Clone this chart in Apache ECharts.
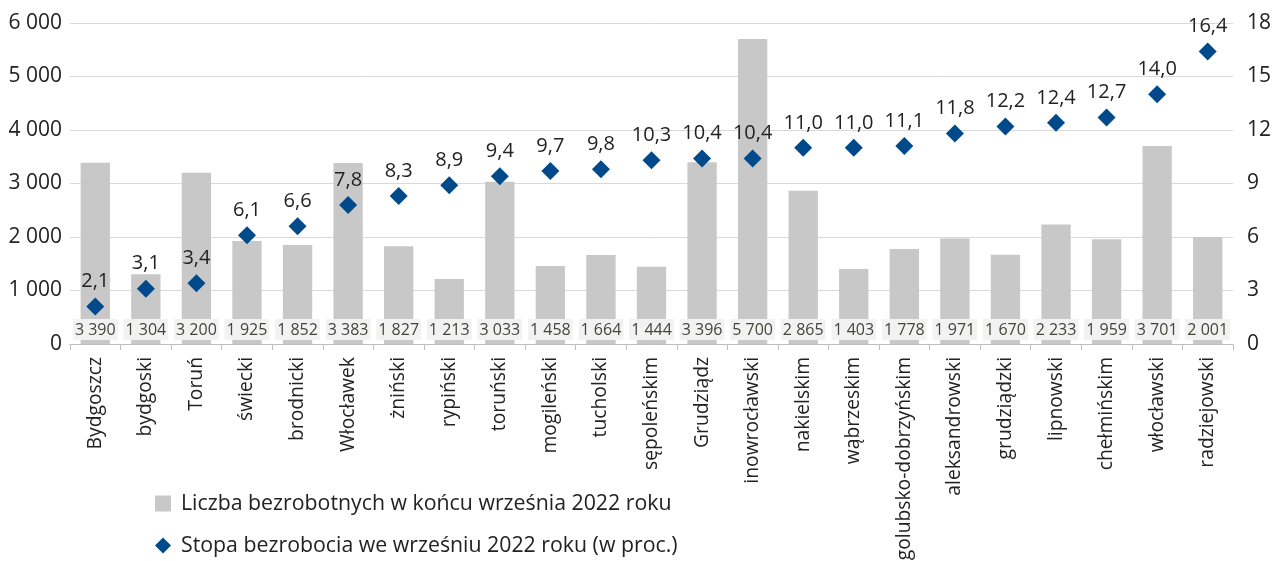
<!DOCTYPE html>
<html>
<head>
<meta charset="utf-8">
<script src="https://cdn.jsdelivr.net/npm/echarts@6/dist/echarts.min.js"></script>
<style>
  html, body { margin: 0; padding: 0; background: #fff; }
  #chart { width: 1281px; height: 561px; }
</style>
</head>
<body>
<div id="chart"></div>
<script>
var categories = ['Bydgoszcz', 'bydgoski', 'Toruń', 'świecki', 'brodnicki', 'Włocławek', 'żniński', 'rypiński',
  'toruński', 'mogileński', 'tucholski', 'sępoleńskim', 'Grudziądz', 'inowrocławski', 'nakielskim', 'wąbrzeskim',
  'golubsko-dobrzyńskim', 'aleksandrowski', 'grudziądzki', 'lipnowski', 'chełmińskim', 'włocławski', 'radziejowski'];
var unemployed = [3390, 1304, 3200, 1925, 1852, 3383, 1827, 1213, 3033, 1458, 1664, 1444, 3396, 5700, 2865, 1403,
  1778, 1971, 1670, 2233, 1959, 3701, 2001];
var rate = [2.1, 3.1, 3.4, 6.1, 6.6, 7.8, 8.3, 8.9, 9.4, 9.7, 9.8, 10.3, 10.4, 10.4, 11.0, 11.0, 11.1, 11.8, 12.2,
  12.4, 12.7, 14.0, 16.4];
var barName = 'Liczba bezrobotnych w końcu września 2022 roku';
var rateName = 'Stopa bezrobocia we wrześniu 2022 roku (w proc.)';

function thousands(v) {
  return String(v).replace(/\B(?=(\d{3})+(?!\d))/g, ' ');
}

var font = '"Open Sans", "Noto Sans", sans-serif';
var chart = echarts.init(document.getElementById('chart'));

var option = {
  animation: false,
  textStyle: { fontFamily: font },
  grid: { left: 70, right: 48, top: 23, bottom: 217, outerBoundsMode: 'none' },
  legend: {
    orient: 'vertical',
    left: 150,
    top: 488,
    itemGap: 21,
    itemWidth: 16,
    itemHeight: 16,
    textStyle: { fontSize: 21.3, color: '#222', fontFamily: font, padding: [0, 0, 0, 5] },
    data: [
      { name: barName, icon: 'rect', itemStyle: { color: '#c8c8c8' } },
      { name: rateName, icon: 'diamond', itemStyle: { color: '#004a8c', opacity: 1 } }
    ]
  },
  xAxis: {
    type: 'category',
    data: categories,
    axisLine: { lineStyle: { color: '#bfbfbf' } },
    axisTick: { show: true, length: 6, lineStyle: { color: '#bfbfbf' } },
    axisLabel: { rotate: 90, fontSize: 19.3, color: '#222', margin: 13, interval: 0 }
  },
  yAxis: [
    {
      type: 'value',
      min: 0,
      max: 6000,
      interval: 1000,
      axisLine: { show: false },
      axisTick: { show: false },
      splitLine: { lineStyle: { color: '#d9d9d9' } },
      axisLabel: { fontSize: 21, color: '#222', margin: 8, formatter: thousands }
    },
    {
      type: 'value',
      min: 0,
      max: 18,
      interval: 3,
      axisLine: { show: false },
      axisTick: { show: false },
      splitLine: { show: false },
      axisLabel: { fontSize: 21, color: '#222', margin: 14 }
    }
  ],
  series: [
    {
      name: barName,
      type: 'bar',
      data: unemployed,
      barWidth: '58%',
      itemStyle: { color: '#c8c8c8' },
      label: {
        show: true,
        position: 'insideBottom',
        distance: 4,
        fontSize: 16,
        color: '#45453a',
        backgroundColor: '#f2f2f2',
        padding: [3, 2, 2, 2],
        formatter: function (p) { return thousands(p.value); }
      }
    },
    {
      name: rateName,
      type: 'scatter',
      yAxisIndex: 1,
      data: rate,
      symbol: 'diamond',
      symbolSize: 18,
      itemStyle: { color: '#004a8c', opacity: 1 },
      label: {
        show: true,
        position: 'top',
        distance: 6,
        fontSize: 20,
        color: '#222',
        formatter: function (p) { return p.value.toFixed(1).replace('.', ','); }
      }
    }
  ]
};

chart.setOption(option);
</script>
</body>
</html>
